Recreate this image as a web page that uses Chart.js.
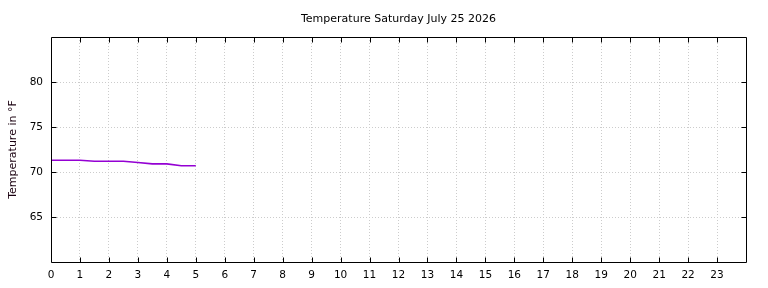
<!DOCTYPE html>
<html>
<head>
<meta charset="utf-8">
<script src="https://cdn.jsdelivr.net/npm/chart.js@4/dist/chart.umd.min.js"></script>
<style>
html,body{margin:0;padding:0;background:#fff;}
#wrap{width:768px;height:288px;position:relative;}
</style>
</head>
<body>
<div id="wrap"><canvas id="c" width="768" height="288"></canvas></div>
<script>
const chartTitle = 'Temperature Saturday July 25 2026';
const yTitle = 'Temperature in °F';
const hours = [0, 0.5, 1, 1.5, 2, 2.5, 3, 3.5, 4, 4.5, 5];
const temps = [71.3, 71.3, 71.3, 71.2, 71.2, 71.2, 71.05, 70.9, 70.9, 70.7, 70.7];
const xTicks = [0,1,2,3,4,5,6,7,8,9,10,11,12,13,14,15,16,17,18,19,20,21,22,23];
const yTicks = [65, 70, 75, 80];

const FONT = 'DejaVu Sans';

const framePlugin = {
  id: 'frame',
  afterDatasetsDraw(chart) {
    const {ctx, chartArea: a, scales} = chart;
    ctx.save();
    ctx.strokeStyle = '#000';
    ctx.lineWidth = 1;
    ctx.beginPath();
    const L = Math.round(a.left) + 0.5, R = Math.round(a.right) + 0.5;
    const T = Math.round(a.top) + 0.5, B = Math.round(a.bottom) + 0.5;
    ctx.rect(L, T, R - L, B - T);
    const tl = 5;
    xTicks.forEach(v => {
      if (v === 0) return;
      const x = Math.round(scales.x.getPixelForValue(v)) + 0.5;
      ctx.moveTo(x, B); ctx.lineTo(x, B - tl);
      ctx.moveTo(x, T); ctx.lineTo(x, T + tl);
    });
    yTicks.forEach(v => {
      const y = Math.round(scales.y.getPixelForValue(v)) + 0.5;
      ctx.moveTo(L, y); ctx.lineTo(L + tl, y);
      ctx.moveTo(R, y); ctx.lineTo(R - tl, y);
    });
    ctx.stroke();
    ctx.restore();
  }
};

new Chart(document.getElementById('c'), {
  type: 'line',
  data: {
    datasets: [{
      data: hours.map((h, i) => ({x: h, y: temps[i]})),
      borderColor: '#9400d3',
      borderWidth: 1.6,
      pointRadius: 0,
      tension: 0,
      fill: false
    }]
  },
  options: {
    responsive: false,
    animation: false,
    devicePixelRatio: 1,
    layout: {padding: {left: 0, right: 22, top: 0, bottom: 0}},
    plugins: {
      legend: {display: false},
      tooltip: {enabled: false},
      title: {
        display: true,
        fullSize: false,
        text: chartTitle,
        color: '#000',
        font: {family: FONT, size: 11, weight: 'normal', lineHeight: 1.2},
        padding: {top: 12.5, bottom: 11.3}
      }
    },
    scales: {
      x: {
        type: 'linear',
        min: 0, max: 24,
        afterFit(s) { s.height = 26; },
        afterBuildTicks(s) { s.ticks = xTicks.concat([24]).map(v => ({value: v})); },
        ticks: {
          color: '#000',
          font: {family: FONT, size: 10.5},
          padding: 7,
          maxRotation: 0,
          autoSkip: false,
          callback: v => (v === 24 ? '' : String(v))
        },
        grid: {
          color: '#cccccc',
          lineWidth: 1,
          drawTicks: false
        },
        border: {display: false, dash: [1, 2]}
      },
      y: {
        min: 60, max: 85,
        afterFit(s) { s.width = 51; },
        afterBuildTicks(s) { s.ticks = [60].concat(yTicks, [85]).map(v => ({value: v})); },
        ticks: {
          color: '#000',
          font: {family: FONT, size: 10.5},
          padding: 8,
          autoSkip: false,
          callback: v => (yTicks.includes(v) ? String(v) : '')
        },
        title: {
          display: true,
          text: yTitle,
          color: '#1a0010',
          font: {family: FONT, size: 11, lineHeight: 1.2},
          padding: {top: 7, bottom: 0}
        },
        grid: {
          color: '#cccccc',
          lineWidth: 1,
          drawTicks: false
        },
        border: {display: false, dash: [1, 2]}
      }
    }
  },
  plugins: [framePlugin]
});
</script>
</body>
</html>
